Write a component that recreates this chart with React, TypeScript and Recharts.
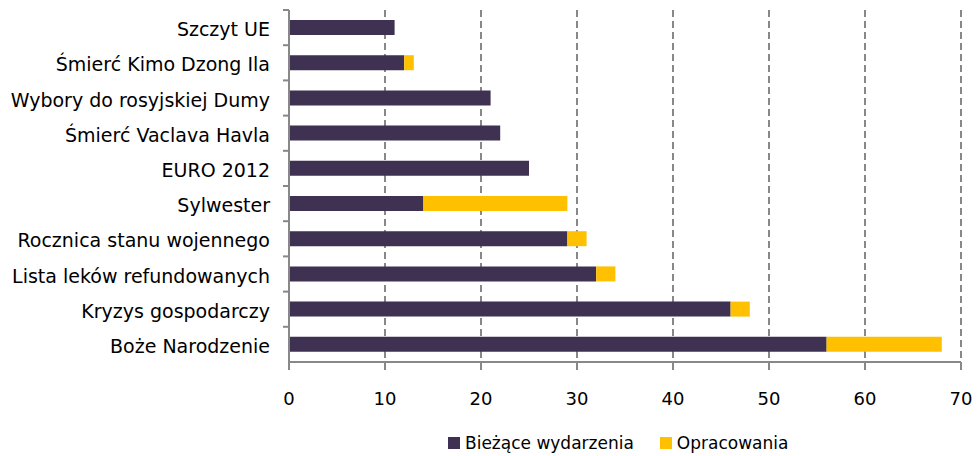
import { BarChart, Bar, XAxis, YAxis, CartesianGrid, Legend } from 'recharts'

const categories = [
  'Szczyt UE',
  'Śmierć Kimo Dzong Ila ',
  'Wybory do rosyjskiej Dumy',
  'Śmierć Vaclava Havla',
  'EURO 2012',
  'Sylwester',
  'Rocznica stanu wojennego',
  'Lista leków refundowanych',
  'Kryzys gospodarczy',
  'Boże Narodzenie',
]
const biezace = [11, 12, 21, 22, 25, 14, 29, 32, 46, 56]
const opracowania = [0, 1, 0, 0, 0, 15, 2, 2, 2, 12]
const xTicks = [0, 10, 20, 30, 40, 50, 60, 70]

const data = categories.map((name, i) => ({
  name,
  biezace: biezace[i],
  opracowania: opracowania[i],
}))

const FONT = '"DejaVu Sans", sans-serif'
const AXIS = '#888888'
const TOP = 10
const PLOT_LEFT = 289
const LEGEND_H = 26
const XAXIS_H = 68
const BAND = (456 - TOP - LEGEND_H - XAXIS_H) / categories.length

function CategoryTick(props: any) {
  const { y, payload } = props
  return (
    <g>
      <line x1={PLOT_LEFT - 6} x2={PLOT_LEFT} y1={y - BAND / 2} y2={y - BAND / 2} stroke={AXIS} strokeWidth={2} />
      <text x={PLOT_LEFT - 19} y={y} dy="0.45em" textAnchor="end" fill="#000" fontSize={19} fontFamily={FONT}>
        {payload.value}
      </text>
    </g>
  )
}

function LegendContent(props: any) {
  const { payload } = props
  return (
    <div style={{ display: 'flex', paddingLeft: 448, height: LEGEND_H, alignItems: 'center', fontFamily: FONT, fontSize: 17, color: '#000' }}>
      {payload.map((p: any) => (
        <div key={p.value} style={{ display: 'flex', alignItems: 'center', marginRight: 26 }}>
          <span style={{ width: 12, height: 12, background: p.color, marginRight: 5, display: 'inline-block' }} />
          <span>{p.value}</span>
        </div>
      ))}
    </div>
  )
}

export default function App() {
  return (
    <div style={{ position: 'absolute', left: 0, top: 0, background: '#fff' }}>
      <BarChart
        width={980}
        height={456}
        data={data}
        layout="vertical"
        margin={{ top: TOP, right: 19, left: 0, bottom: 0 }}
        barSize={15}
      >
        <CartesianGrid horizontal={false} stroke={AXIS} strokeWidth={2} strokeDasharray="7 4" />
        <XAxis
          type="number"
          domain={[0, 70]}
          ticks={xTicks}
          axisLine={{ stroke: AXIS, strokeWidth: 2 }}
          tickLine={{ stroke: AXIS, strokeWidth: 2 }}
          tickSize={8}
          tickMargin={22}
          height={XAXIS_H}
          tick={{ fill: '#000', fontSize: 18, fontFamily: FONT }}
        />
        <XAxis xAxisId="top" type="number" orientation="top" domain={[0, 70]} height={0} tick={false} tickLine={false} axisLine={{ stroke: AXIS, strokeWidth: 2 }} />
        <YAxis
          type="category"
          dataKey="name"
          width={PLOT_LEFT}
          axisLine={{ stroke: AXIS, strokeWidth: 2 }}
          tickLine={false}
          interval={0}
          tick={<CategoryTick />}
        />
        <YAxis yAxisId="right" type="category" dataKey="name" orientation="right" width={0} tick={false} tickLine={false} axisLine={{ stroke: AXIS, strokeWidth: 2 }} />
        <Legend verticalAlign="bottom" height={LEGEND_H} content={<LegendContent />} />
        <Bar dataKey="biezace" name="Bieżące wydarzenia" stackId="a" fill="#3f3151" isAnimationActive={false} />
        <Bar dataKey="opracowania" name="Opracowania" stackId="a" fill="#ffc000" isAnimationActive={false} />
      </BarChart>
    </div>
  )
}
